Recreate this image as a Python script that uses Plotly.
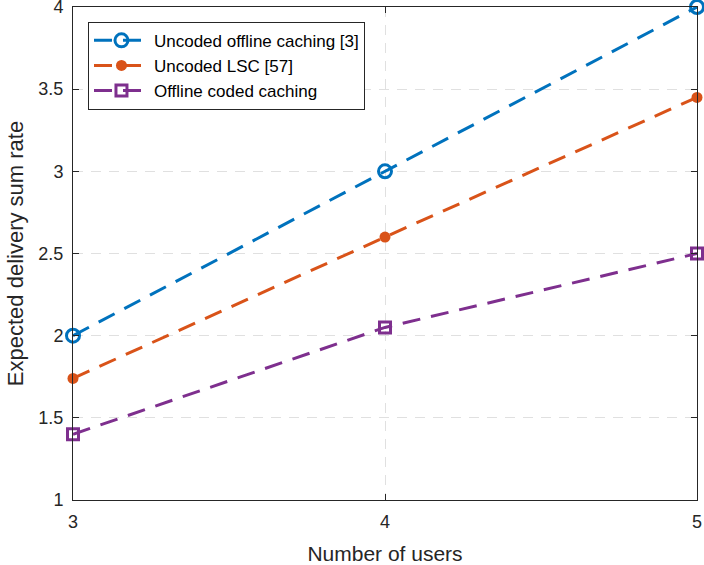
import plotly.graph_objects as go

users = [3, 4, 5]
uncoded_offline = [2.0, 3.0, 4.0]
uncoded_lsc = [1.74, 2.6, 3.45]
offline_coded = [1.4, 2.05, 2.5]
y_ticks = [1, 1.5, 2, 2.5, 3, 3.5, 4]
y_tick_labels = ["1", "1.5", "2", "2.5", "3", "3.5", "4"]

FONT = "Liberation Sans, Arial, sans-serif"
DASH = "18px,11px"

fig = go.Figure()
fig.add_trace(go.Scatter(
    x=users, y=uncoded_offline, mode="lines+markers",
    name="Uncoded offline caching [3]",
    line=dict(color="#0072BD", width=3, dash=DASH),
    marker=dict(symbol="circle-open", size=13, color="#0072BD", line=dict(width=3)),
    cliponaxis=False,
))
fig.add_trace(go.Scatter(
    x=users, y=uncoded_lsc, mode="lines+markers",
    name="Uncoded LSC [57]",
    line=dict(color="#D95319", width=3, dash=DASH),
    marker=dict(symbol="circle", size=11, color="#D95319"),
    cliponaxis=False,
))
fig.add_trace(go.Scatter(
    x=users, y=offline_coded, mode="lines+markers",
    name="Offline coded caching",
    line=dict(color="#7E2F8E", width=3, dash=DASH),
    marker=dict(symbol="square-open", size=11, color="#7E2F8E", line=dict(width=3)),
    cliponaxis=False,
))

axis_common = dict(
    showline=True, linecolor="#262626", linewidth=1, mirror="ticks",
    ticks="inside", ticklen=6, tickcolor="#262626",
    showgrid=True, gridcolor="#E0E0E0", griddash="10px,8px", gridwidth=1,
    zeroline=False, automargin=False, ticklabeloverflow="allow",
    tickfont=dict(family=FONT, size=18, color="#262626"),
)

fig.update_xaxes(
    range=[3, 5], tickvals=users, ticktext=[str(u) for u in users],
    ticklabelstandoff=5,
    title=dict(text="Number of users", font=dict(family=FONT, size=21, color="#262626"), standoff=17),
    **axis_common,
)
fig.update_yaxes(
    range=[1, 4], tickvals=y_ticks, ticktext=y_tick_labels,
    ticklabelstandoff=5,
    title=dict(text="Expected delivery sum rate", font=dict(family=FONT, size=22, color="#262626"), standoff=8),
    **axis_common,
)

fig.update_layout(
    width=704, height=565,
    margin=dict(l=73, r=7, t=7, b=65),
    paper_bgcolor="white", plot_bgcolor="white",
    font=dict(family=FONT, color="#262626"),
    legend=dict(
        x=0.024, y=0.97, xanchor="left", yanchor="top",
        bgcolor="white", bordercolor="#262626", borderwidth=1,
        font=dict(size=17, color="#000000"),
        tracegroupgap=0, itemwidth=55,
    ),
    showlegend=True,
)

fig.write_html(
    "out.html",
    config={"displayModeBar": False},
    post_script="document.body.style.margin='0';document.body.style.overflow='hidden';",
)
